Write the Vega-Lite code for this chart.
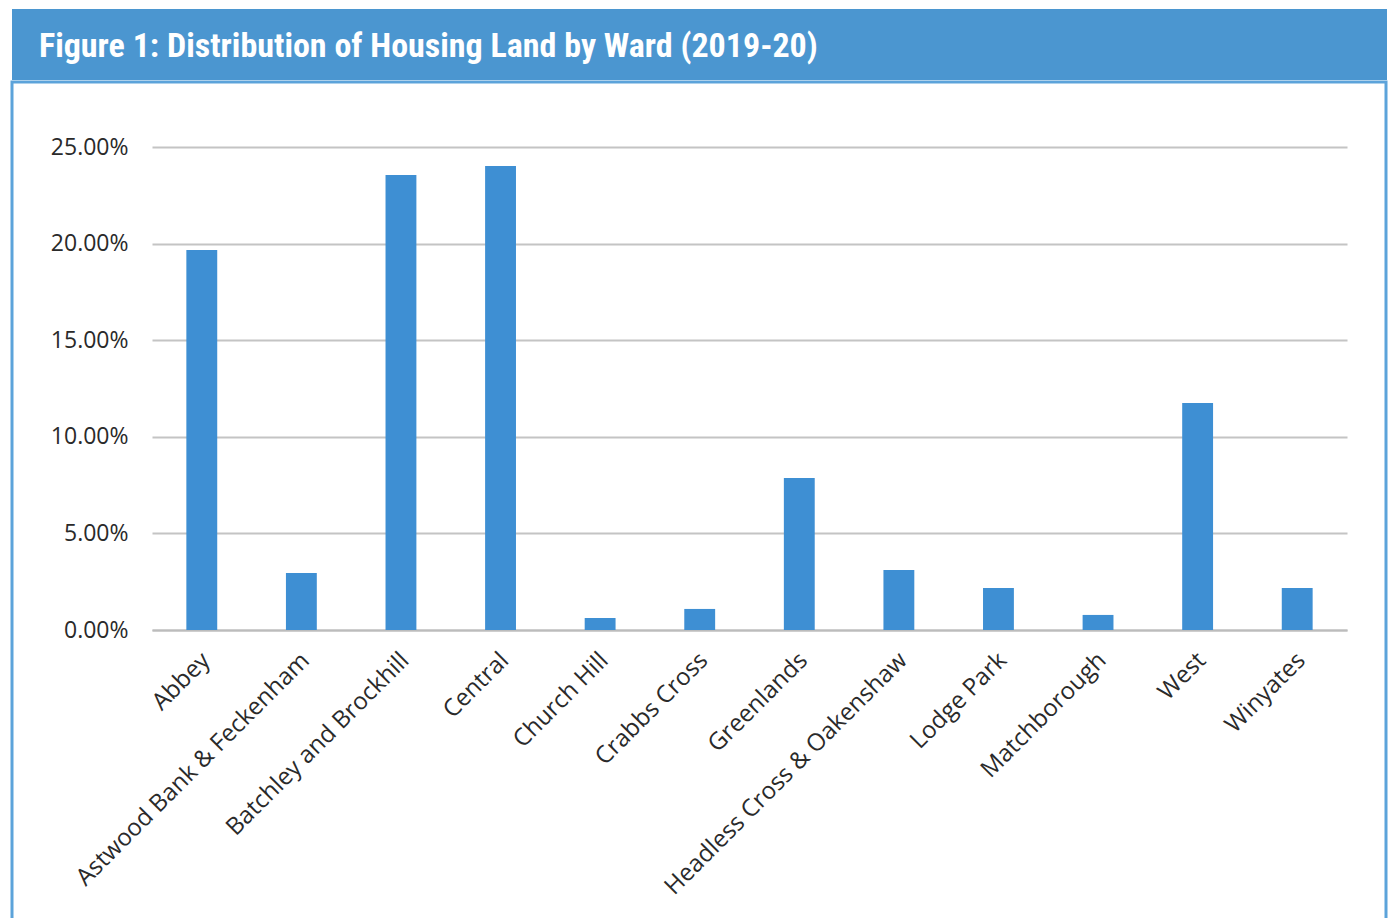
{
  "$schema": "https://vega.github.io/schema/vega-lite/v6.json",
  "padding": {"left": 10, "top": 9, "right": 0, "bottom": 0},
  "background": "white",
  "spacing": 0,
  "config": {"concat": {"spacing": 0}},
  "vconcat": [
    {
      "width": 1375,
      "height": 71,
      "view": {"fill": "#4b96d0", "stroke": null},
      "title": {
        "text": "Figure 1: Distribution of Housing Land by Ward (2019-20)",
        "anchor": "start",
        "orient": "top",
        "frame": "bounds",
        "offset": -55,
        "dx": 27,
        "font": "Roboto Condensed, DejaVu Sans Condensed, sans-serif",
        "fontWeight": "bold",
        "fontSize": 34,
        "color": "white"
      },
      "data": {"values": [{"banner": 1}]},
      "mark": {"type": "rect", "color": "#4b96d0"},
      "encoding": {}
    },
    {
      "width": 1374,
      "height": 845,
      "view": {"stroke": "#5ca3da", "strokeWidth": 3, "fill": "white"},
      "data": {
        "values": [
          {"ward": "Abbey", "share": 0.1967},
          {"ward": "Astwood Bank & Feckenham", "share": 0.0295},
          {"ward": "Batchley and Brockhill", "share": 0.2355},
          {"ward": "Central", "share": 0.2402},
          {"ward": "Church Hill", "share": 0.0062},
          {"ward": "Crabbs Cross", "share": 0.0109},
          {"ward": "Greenlands", "share": 0.0787},
          {"ward": "Headless Cross & Oakenshaw", "share": 0.031},
          {"ward": "Lodge Park", "share": 0.0217},
          {"ward": "Matchborough", "share": 0.0078},
          {"ward": "West", "share": 0.1175},
          {"ward": "Winyates", "share": 0.0217}
        ]
      },
      "mark": {"type": "bar", "color": "#3e8fd3"},
      "encoding": {
        "x": {
          "field": "ward",
          "type": "nominal",
          "sort": null,
          "scale": {"range": [140, 1335], "paddingInner": 0.69, "paddingOuter": 0.345},
          "axis": {
            "title": null,
            "offset": -297,
            "labelAngle": -45,
            "labelFont": "Open Sans",
            "labelFontSize": 24,
            "labelColor": "#2a2a2a",
            "ticks": false,
            "domainColor": "#bcbcbc",
            "domainWidth": 2,
            "labelPadding": 18,
            "labelOffset": -4,
            "labelLimit": 0
          }
        },
        "y": {
          "field": "share",
          "type": "quantitative",
          "scale": {"domain": [0, 0.25], "range": [548, 65], "nice": false},
          "axis": {
            "title": null,
            "offset": -140,
            "values": [0, 0.05, 0.1, 0.15, 0.2, 0.25],
            "format": ".2%",
            "domain": false,
            "ticks": false,
            "gridColor": "#c4c4c4",
            "gridWidth": 2,
            "labelPadding": 24,
            "labelFont": "Open Sans",
            "labelFontSize": 23,
            "labelColor": "#2a2a2a"
          }
        }
      }
    }
  ]
}
